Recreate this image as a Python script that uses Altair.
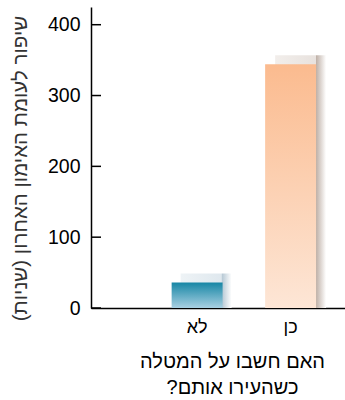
import altair as alt
import pandas as pd

categories = ["לא", "כן"]
values = [36, 344]
y_ticks = [0, 100, 200, 300, 400]

df = pd.DataFrame({"cat": categories, "value": values})
ticks_df = pd.DataFrame({"t": y_ticks})

FONT = "Liberation Sans, Arial, sans-serif"

x_scale = alt.Scale(domain=categories, paddingInner=0.455, paddingOuter=0.586, align=0.736)
y_scale = alt.Scale(domain=[0, 425], nice=False)

x_axis = alt.Axis(
    title=["האם חשבו על המטלה", "כשהעירו אותם?\u200f"],
    labelAngle=0, ticks=False, grid=False,
    labelFontSize=18, labelPadding=10, labelColor="black", labelFont=FONT,
    domainColor="black", domainWidth=1.5,
    titleFont=FONT, titleFontSize=20, titleFontWeight="normal", titleColor="black",
    titleX=141, titleY=43, titleBaseline="top", titleLineHeight=26, titleAlign="center",
)
y_axis = alt.Axis(
    title="שיפור לעומת האימון האחרון (שניות)\u200f",
    values=y_ticks, ticks=False, grid=False,
    labelFontSize=19.5, labelPadding=11, labelColor="black", labelFont=FONT,
    domainColor="black", domainWidth=1.5,
    titleFont=FONT, titleFontSize=20.5, titleFontWeight="normal", titleColor="#333333",
    titleAngle=-90, titleX=-71, titleY=161, titleAlign="center", titleBaseline="middle",
)

x_enc = alt.X("cat:N", sort=categories, scale=x_scale, axis=x_axis)
y_enc = alt.Y("value:Q", scale=y_scale, axis=y_axis)
shadow_base = alt.Y2(datum=-20)


def vgrad(bottom, top):
    return alt.LinearGradient(
        gradient="linear",
        stops=[alt.GradientStop(color=bottom, offset=0), alt.GradientStop(color=top, offset=1)],
        x1=0, x2=0, y1=1, y2=0,
    )


def shadow_grad(top_light, top_dark, side):
    return alt.LinearGradient(
        gradient="linear",
        stops=[alt.GradientStop(color=top_light, offset=0),
               alt.GradientStop(color=top_dark, offset=0.8),
               alt.GradientStop(color=side, offset=0.81),
               alt.GradientStop(color="#ffffff", offset=1)],
        x1=0, x2=1, y1=0, y2=0,
    )


base = alt.Chart(df)

shadow_no = base.transform_filter(alt.datum.cat == "לא").mark_bar(
    fill=shadow_grad("#eef3f6", "#dfe8ee", "#b6c8d4"), xOffset=9, yOffset=-9, clip=True
).encode(x=x_enc, y=y_enc, y2=shadow_base)
shadow_yes = base.transform_filter(alt.datum.cat == "כן").mark_bar(
    fill=shadow_grad("#f2eeeb", "#e8e2de", "#c0b2a9"), xOffset=10, yOffset=-9, clip=True
).encode(x=x_enc, y=y_enc, y2=shadow_base)

bar_no = base.transform_filter(alt.datum.cat == "לא").mark_bar(
    fill=vgrad("#a9d0e2", "#1686a5")
).encode(x=x_enc, y=y_enc)
bar_yes = base.transform_filter(alt.datum.cat == "כן").mark_bar(
    fill=vgrad("#fde6d6", "#fbbb8f")
).encode(x=x_enc, y=y_enc)

tick_rules = alt.Chart(ticks_df).mark_rule(color="black", strokeWidth=1.5).encode(
    y=alt.Y("t:Q", scale=y_scale, axis=y_axis),
    x=alt.value(0),
    x2=alt.value(10),
)

chart = alt.layer(shadow_no, shadow_yes, bar_no, bar_yes, tick_rules).properties(
    width=254,
    height=301,
    autosize=alt.AutoSizeParams(type="none"),
    padding={"left": 91, "top": 7, "right": 0, "bottom": 92},
    background="white",
).configure_view(stroke=None)

chart.save("out.html", embed_options={"renderer": "svg", "actions": False})
